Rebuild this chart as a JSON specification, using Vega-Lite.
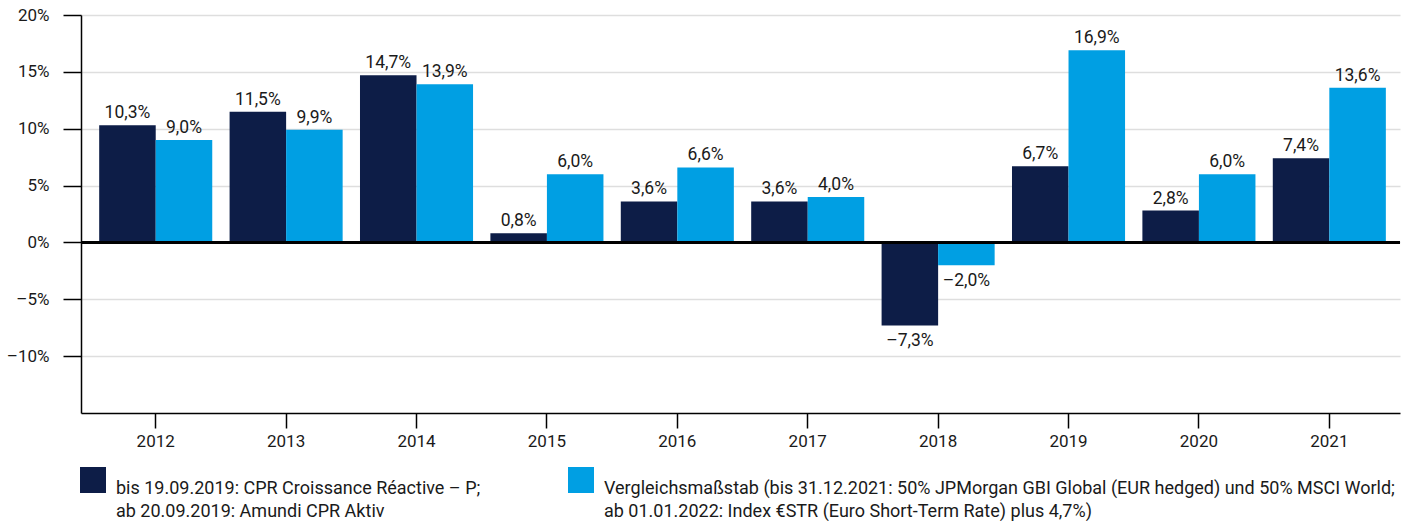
{
  "$schema": "https://vega.github.io/schema/vega-lite/v6.json",
  "width": 1319,
  "height": 398,
  "autosize": {"type": "none"},
  "padding": {"left": 81, "top": 15, "right": 5, "bottom": 108},
  "config": {
    "locale": {"number": {"decimal": ",", "thousands": ".", "grouping": [3], "currency": ["", " €"], "minus": "–"}},
    "font": "Roboto",
    "view": {"stroke": null},
    "style": {"guide-label": {"lineHeight": 23}}
  },
  "data": {
    "values": [
      {"year": "2012", "k": 1, "s": "bis 19.09.2019: CPR Croissance Réactive – P;|ab 20.09.2019: Amundi CPR Aktiv", "v": 0.103},
      {"year": "2012", "k": 2, "s": "Vergleichsmaßstab (bis 31.12.2021: 50% JPMorgan GBI Global (EUR hedged) und 50% MSCI World;|ab 01.01.2022: Index €STR (Euro Short-Term Rate) plus 4,7%)", "v": 0.090},
      {"year": "2013", "k": 1, "s": "bis 19.09.2019: CPR Croissance Réactive – P;|ab 20.09.2019: Amundi CPR Aktiv", "v": 0.115},
      {"year": "2013", "k": 2, "s": "Vergleichsmaßstab (bis 31.12.2021: 50% JPMorgan GBI Global (EUR hedged) und 50% MSCI World;|ab 01.01.2022: Index €STR (Euro Short-Term Rate) plus 4,7%)", "v": 0.099},
      {"year": "2014", "k": 1, "s": "bis 19.09.2019: CPR Croissance Réactive – P;|ab 20.09.2019: Amundi CPR Aktiv", "v": 0.147},
      {"year": "2014", "k": 2, "s": "Vergleichsmaßstab (bis 31.12.2021: 50% JPMorgan GBI Global (EUR hedged) und 50% MSCI World;|ab 01.01.2022: Index €STR (Euro Short-Term Rate) plus 4,7%)", "v": 0.139},
      {"year": "2015", "k": 1, "s": "bis 19.09.2019: CPR Croissance Réactive – P;|ab 20.09.2019: Amundi CPR Aktiv", "v": 0.008},
      {"year": "2015", "k": 2, "s": "Vergleichsmaßstab (bis 31.12.2021: 50% JPMorgan GBI Global (EUR hedged) und 50% MSCI World;|ab 01.01.2022: Index €STR (Euro Short-Term Rate) plus 4,7%)", "v": 0.060},
      {"year": "2016", "k": 1, "s": "bis 19.09.2019: CPR Croissance Réactive – P;|ab 20.09.2019: Amundi CPR Aktiv", "v": 0.036},
      {"year": "2016", "k": 2, "s": "Vergleichsmaßstab (bis 31.12.2021: 50% JPMorgan GBI Global (EUR hedged) und 50% MSCI World;|ab 01.01.2022: Index €STR (Euro Short-Term Rate) plus 4,7%)", "v": 0.066},
      {"year": "2017", "k": 1, "s": "bis 19.09.2019: CPR Croissance Réactive – P;|ab 20.09.2019: Amundi CPR Aktiv", "v": 0.036},
      {"year": "2017", "k": 2, "s": "Vergleichsmaßstab (bis 31.12.2021: 50% JPMorgan GBI Global (EUR hedged) und 50% MSCI World;|ab 01.01.2022: Index €STR (Euro Short-Term Rate) plus 4,7%)", "v": 0.040},
      {"year": "2018", "k": 1, "s": "bis 19.09.2019: CPR Croissance Réactive – P;|ab 20.09.2019: Amundi CPR Aktiv", "v": -0.073},
      {"year": "2018", "k": 2, "s": "Vergleichsmaßstab (bis 31.12.2021: 50% JPMorgan GBI Global (EUR hedged) und 50% MSCI World;|ab 01.01.2022: Index €STR (Euro Short-Term Rate) plus 4,7%)", "v": -0.020},
      {"year": "2019", "k": 1, "s": "bis 19.09.2019: CPR Croissance Réactive – P;|ab 20.09.2019: Amundi CPR Aktiv", "v": 0.067},
      {"year": "2019", "k": 2, "s": "Vergleichsmaßstab (bis 31.12.2021: 50% JPMorgan GBI Global (EUR hedged) und 50% MSCI World;|ab 01.01.2022: Index €STR (Euro Short-Term Rate) plus 4,7%)", "v": 0.169},
      {"year": "2020", "k": 1, "s": "bis 19.09.2019: CPR Croissance Réactive – P;|ab 20.09.2019: Amundi CPR Aktiv", "v": 0.028},
      {"year": "2020", "k": 2, "s": "Vergleichsmaßstab (bis 31.12.2021: 50% JPMorgan GBI Global (EUR hedged) und 50% MSCI World;|ab 01.01.2022: Index €STR (Euro Short-Term Rate) plus 4,7%)", "v": 0.060},
      {"year": "2021", "k": 1, "s": "bis 19.09.2019: CPR Croissance Réactive – P;|ab 20.09.2019: Amundi CPR Aktiv", "v": 0.074},
      {"year": "2021", "k": 2, "s": "Vergleichsmaßstab (bis 31.12.2021: 50% JPMorgan GBI Global (EUR hedged) und 50% MSCI World;|ab 01.01.2022: Index €STR (Euro Short-Term Rate) plus 4,7%)", "v": 0.136}
    ]
  },
  "layer": [
    {
      "mark": {"type": "bar"},
      "encoding": {
        "x": {
          "field": "year", "type": "ordinal", "title": null,
          "scale": {"paddingInner": 0.133, "paddingOuter": 0.124, "align": 0.5625},
          "axis": {"labelAngle": 0, "domainColor": "#000000", "domainWidth": 1.5, "tickColor": "#000000", "tickWidth": 1.5, "tickSize": 15, "labelPadding": 5, "labelFontSize": 17, "labelColor": "#1a1a1a", "grid": false}
        },
        "xOffset": {"field": "k", "type": "ordinal", "scale": {"paddingInner": 0, "paddingOuter": 0}},
        "y": {
          "field": "v", "type": "quantitative", "title": null,
          "scale": {"domain": [-0.15, 0.2], "nice": false, "zero": false},
          "axis": {"values": [-0.1, -0.05, 0, 0.05, 0.1, 0.15, 0.2], "format": ".0%", "domainColor": "#000000", "domainWidth": 1.5, "tickColor": "#000000", "tickWidth": 1.5, "tickSize": 18, "labelPadding": 14, "labelFontSize": 17, "labelColor": "#1a1a1a", "grid": true, "gridColor": "#dedede", "gridWidth": 1.5}
        },
        "color": {
          "field": "s", "type": "nominal",
          "scale": {
            "domain": [
              "bis 19.09.2019: CPR Croissance Réactive – P;|ab 20.09.2019: Amundi CPR Aktiv",
              "Vergleichsmaßstab (bis 31.12.2021: 50% JPMorgan GBI Global (EUR hedged) und 50% MSCI World;|ab 01.01.2022: Index €STR (Euro Short-Term Rate) plus 4,7%)"
            ],
            "range": ["#0d1d47", "#009fe3"]
          },
          "legend": {
            "orient": "none", "legendX": -1, "legendY": 452, "direction": "horizontal", "columns": 2,
            "title": null, "symbolType": "square", "symbolSize": 676, "symbolStrokeWidth": 0, "symbolOpacity": 1,
            "labelExpr": "split(datum.label, '|')", "labelFontSize": 18, "labelLimit": 1000, "labelOffset": 10,
            "labelBaseline": "top", "columnPadding": 87, "labelColor": "#1a1a1a"
          }
        }
      }
    },
    {
      "transform": [{"filter": "datum.v >= 0"}],
      "mark": {"type": "text", "baseline": "alphabetic", "dy": -7, "fontSize": 17.5, "color": "#1a1a1a"},
      "encoding": {
        "x": {"field": "year", "type": "ordinal"},
        "xOffset": {"field": "k", "type": "ordinal"},
        "y": {"field": "v", "type": "quantitative"},
        "text": {"field": "v", "type": "quantitative", "format": ".1%"}
      }
    },
    {
      "transform": [{"filter": "datum.v < 0"}],
      "mark": {"type": "text", "baseline": "top", "dy": 7, "fontSize": 17.5, "color": "#1a1a1a"},
      "encoding": {
        "x": {"field": "year", "type": "ordinal"},
        "xOffset": {"field": "k", "type": "ordinal"},
        "y": {"field": "v", "type": "quantitative"},
        "text": {"field": "v", "type": "quantitative", "format": ".1%"}
      }
    },
    {
      "mark": {"type": "rule", "color": "#000000", "strokeWidth": 1.5},
      "encoding": {"y": {"datum": 0}}
    }
  ]
}
